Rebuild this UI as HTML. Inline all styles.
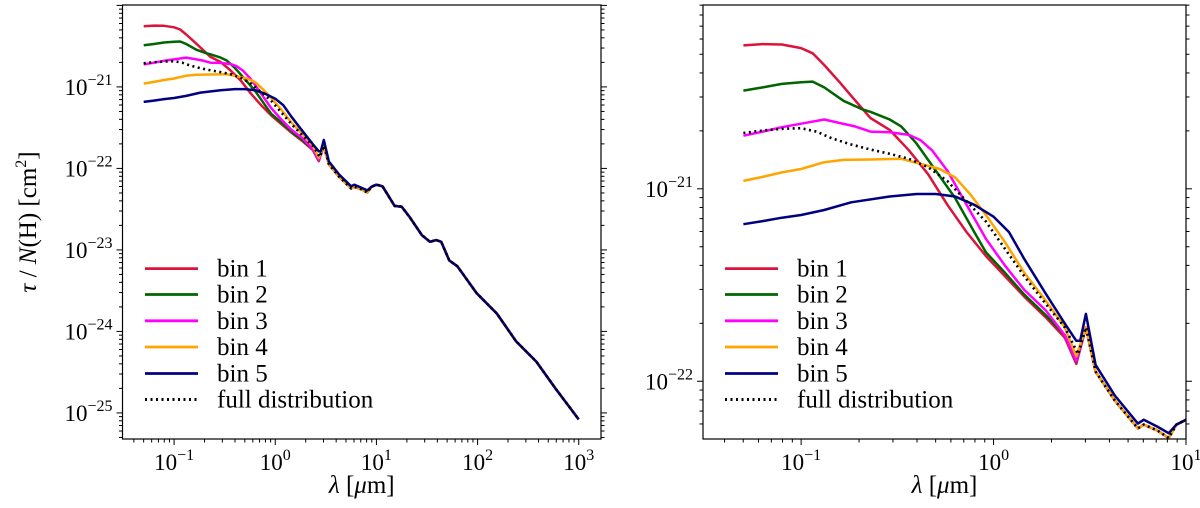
<!DOCTYPE html>
<html><head><meta charset="utf-8">
<style>
html,body{margin:0;padding:0;background:#fff;overflow:hidden;width:1200px;height:508px;}
svg{display:block;font-family:"Liberation Serif","DejaVu Serif",serif;}
</style></head>
<body>
<svg id="fig" width="1200" height="508" viewBox="0 0 1200 508" xmlns="http://www.w3.org/2000/svg" overflow="hidden"></svg>
<script>
// ---- data (log10 λ [µm], log10 τ/N(H) [cm^2]) ----
const seriesNames = ["bin 1","bin 2","bin 3","bin 4","bin 5","full distribution"];
const seriesColors = ["#dc143c","#006400","#ff00ff","#ffa500","#000080","#000000"];
const bin1LogLam = [-1.3,-1.2,-1.1,-1.0,-0.94,-0.88,-0.8,-0.74,-0.64,-0.54,-0.44,-0.34,-0.24,-0.14,-0.04,0.06,0.16,0.27,0.37,0.43,0.48];
const bin1LogTau = [-20.255,-20.248,-20.25,-20.269,-20.296,-20.357,-20.446,-20.517,-20.632,-20.694,-20.8,-20.924,-21.083,-21.225,-21.349,-21.455,-21.561,-21.667,-21.773,-21.91,-21.72];
const bin2LogLam = [-1.3,-1.2,-1.1,-1.0,-0.94,-0.88,-0.78,-0.68,-0.64,-0.54,-0.48,-0.4,-0.3,-0.2,-0.1,-0.04,0.06,0.16,0.27,0.37,0.43,0.48];
const bin2LogTau = [-20.49,-20.473,-20.455,-20.446,-20.443,-20.473,-20.543,-20.588,-20.6,-20.64,-20.676,-20.765,-20.906,-21.048,-21.225,-21.33,-21.437,-21.55,-21.655,-21.76,-21.9,-21.72];
const bin3LogLam = [-1.3,-1.2,-1.1,-1.0,-0.88,-0.8,-0.72,-0.64,-0.54,-0.44,-0.38,-0.32,-0.24,-0.14,-0.04,0.06,0.16,0.27,0.37,0.43,0.48];
const bin3LogTau = [-20.724,-20.703,-20.68,-20.662,-20.64,-20.658,-20.676,-20.703,-20.706,-20.72,-20.747,-20.8,-20.906,-21.083,-21.26,-21.4,-21.526,-21.63,-21.76,-21.897,-21.72];
const bin4LogLam = [-1.3,-1.2,-1.1,-1.0,-0.88,-0.78,-0.64,-0.48,-0.38,-0.28,-0.2,-0.12,-0.04,0.06,0.16,0.27,0.37,0.43,0.48];
const bin4LogTau = [-20.959,-20.938,-20.915,-20.897,-20.862,-20.85,-20.848,-20.844,-20.87,-20.897,-20.94,-21.03,-21.136,-21.278,-21.437,-21.58,-21.72,-21.87,-21.72];
const bin5LogLam = [-1.3,-1.2,-1.1,-1.0,-0.88,-0.74,-0.54,-0.4,-0.3,-0.2,-0.1,0.0,0.08,0.16,0.27,0.37,0.43,0.45,0.48,0.53,0.63,0.75,0.78,0.85,0.91];
const bin5LogTau = [-21.184,-21.168,-21.15,-21.136,-21.11,-21.07,-21.04,-21.027,-21.027,-21.04,-21.083,-21.145,-21.225,-21.366,-21.543,-21.7,-21.79,-21.79,-21.65,-21.915,-22.074,-22.22,-22.2,-22.235,-22.27];
const fullLogLam = [-1.3,-1.2,-1.1,-1.0,-0.92,-0.84,-0.74,-0.64,-0.54,-0.44,-0.34,-0.24,-0.14,-0.04,0.06,0.16,0.27,0.37,0.44,0.48];
const fullLogTau = [-20.71,-20.697,-20.688,-20.685,-20.703,-20.738,-20.77,-20.796,-20.818,-20.844,-20.888,-20.96,-21.065,-21.17,-21.313,-21.455,-21.596,-21.72,-21.86,-21.72];
const tailLogLam = [0.53,0.63,0.75,0.78,0.85,0.91,0.95,1.0,1.06,1.18,1.25,1.33,1.45,1.53,1.59,1.64,1.72,1.8,1.99,2.19,2.38,2.58,2.77,3.0];
const tailLogTau = [-21.95,-22.1,-22.245,-22.225,-22.255,-22.295,-22.225,-22.2,-22.22,-22.46,-22.47,-22.6,-22.82,-22.9,-22.88,-22.9,-23.13,-23.2,-23.53,-23.78,-24.12,-24.37,-24.7,-25.08];
const leftXTicks = [-1,0,1,2,3];
const leftYTicks = [-21,-22,-23,-24,-25];
const rightXTicks = [-1,0,1];
const rightYTicks = [-21,-22];

const NS="http://www.w3.org/2000/svg";
const svg=document.getElementById('fig');
function mk(tag,attrs,parent){const e=document.createElementNS(NS,tag);for(const k in attrs)e.setAttribute(k,attrs[k]);(parent||svg).appendChild(e);return e;}

function buildSeries(){
  const head=[[bin1LogLam,bin1LogTau],[bin2LogLam,bin2LogTau],[bin3LogLam,bin3LogTau],[bin4LogLam,bin4LogTau],[bin5LogLam,bin5LogTau],[fullLogLam,fullLogTau]];
  return head.map(([lx,ly],i)=>{
    const pts=lx.map((v,j)=>[v,ly[j]]);
    const last=lx[lx.length-1];
    tailLogLam.forEach((v,j)=>{ if(v>last) pts.push([v,tailLogTau[j]]); });
    return pts;
  });
}

function panel(cfg){
  const g=mk('g',{});
  
  
  const X=v=>cfg.x0+(v-cfg.xmin)/(cfg.xmax-cfg.xmin)*(cfg.x1-cfg.x0);
  const Y=v=>cfg.y1-(v-cfg.ymin)/(cfg.ymax-cfg.ymin)*(cfg.y1-cfg.y0);
  const clipId=cfg.name+'-clip';
  const cp=mk('clipPath',{id:clipId},g);
  mk('rect',{x:cfg.x0,y:cfg.y0,width:cfg.x1-cfg.x0,height:cfg.y1-cfg.y0},cp);
  const series=buildSeries();
  const sg=mk('g',{'clip-path':'url(#'+clipId+')'},g);
  series.forEach((pts,i)=>{
    const d=pts.map((p,j)=>(j?'L':'M')+X(p[0]).toFixed(1)+','+Y(p[1]).toFixed(1)).join('');
    const attrs={d:d,fill:'none',stroke:seriesColors[i],'stroke-width':2.5,'stroke-linejoin':'round'};
    if(i===5){attrs['stroke-dasharray']='2,3.5';attrs['stroke-width']=2.6;}
    const p=mk('path',attrs,sg);
    
    
  });
  mk('rect',{x:cfg.x0,y:cfg.y0,width:cfg.x1-cfg.x0,height:cfg.y1-cfg.y0,fill:'none',stroke:'#000','stroke-width':1.2},g);
  for(let d=Math.floor(cfg.xmin);d<=Math.ceil(cfg.xmax);d++){
    for(let m=1;m<10;m++){
      const v=d+Math.log10(m);
      if(v<cfg.xmin-1e-6||v>cfg.xmax+1e-6)continue;
      const L=m===1?6:3.5;
      mk('line',{x1:X(v),x2:X(v),y1:cfg.y1,y2:cfg.y1+L,stroke:'#000','stroke-width':1},g);
    }
  }
  cfg.xt.forEach(v=>{
    const t=mk('text',{x:X(v),y:cfg.y1+31,'text-anchor':'middle','font-size':23},g);
    
    
    t.textContent='10';
    const s=mk('tspan',{dy:-10,'font-size':16},t); s.textContent=v<0?'\u2212'+(-v):String(v);
  });
  for(let d=Math.floor(cfg.ymin);d<=Math.ceil(cfg.ymax);d++){
    for(let m=1;m<10;m++){
      const v=d+Math.log10(m);
      if(v<cfg.ymin-1e-6||v>cfg.ymax+1e-6)continue;
      const L=m===1?6:3.5;
      mk('line',{x1:cfg.x0,x2:cfg.x0-L,y1:Y(v),y2:Y(v),stroke:'#000','stroke-width':1},g);
      mk('line',{x1:cfg.x1,x2:cfg.x1+L,y1:Y(v),y2:Y(v),stroke:'#000','stroke-width':1},g);
    }
  }
  cfg.yt.forEach(v=>{
    const t=mk('text',{x:cfg.x0-10,y:Y(v)+8,'text-anchor':'end','font-size':23},g);
    
    
    t.textContent='10';
    const s=mk('tspan',{dy:-10,'font-size':16},t); s.textContent='\u2212'+(-v);
  });
  const xl=mk('text',{x:(cfg.x0+cfg.x1)/2,y:493,'text-anchor':'middle','font-size':25},g);
  
  
  xl.innerHTML='<tspan font-style="italic">λ</tspan> [<tspan font-style="italic">μ</tspan>m]';
  const lg=mk('g',{},g);
  
  
  const rows=[268.6,294.5,320.8,347,373.5,399.5];
  seriesNames.forEach((n,i)=>{
    const e=mk('g',{},lg);
    
    
    const la={x1:cfg.lx,x2:cfg.lx+53,y1:rows[i],y2:rows[i],stroke:seriesColors[i],'stroke-width':2.8};
    if(i===5){la['stroke-dasharray']='2,3.5';la['stroke-width']=3;}
    mk('line',la,e);
    const t=mk('text',{x:cfg.lx+72,y:rows[i]+8,'font-size':25},e);
    t.textContent=n;
  });
}

panel({name:'left-panel',x0:122.5,x1:601,y0:5,y1:439,xmin:-1.51,xmax:3.22,ymin:-25.32,ymax:-19.995,xt:leftXTicks,yt:leftYTicks,lx:145});
panel({name:'right-panel',x0:703,x1:1186,y0:5,y1:439,xmin:-1.51,xmax:1.0,ymin:-22.30,ymax:-20.045,xt:rightXTicks,yt:rightYTicks,lx:725});

const yl=mk('text',{x:0,y:0,'text-anchor':'middle','font-size':25,transform:'translate(36,222) rotate(-90)'});


yl.innerHTML='<tspan font-style="italic">τ</tspan> / <tspan font-style="italic">N</tspan>(H)  [cm<tspan dy="-10" font-size="16">2</tspan><tspan dy="10">]</tspan>';
</script>
</body></html>
